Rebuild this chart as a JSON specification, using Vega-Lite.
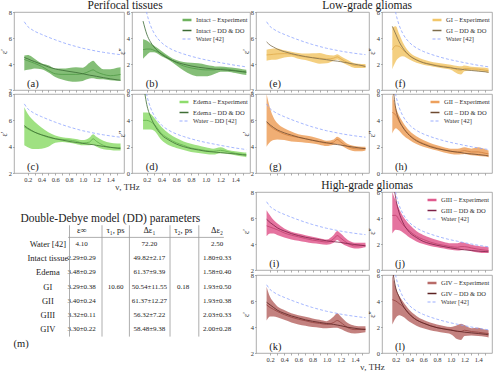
{
  "$schema": "https://vega.github.io/schema/vega-lite/v6.json",
  "padding": {"left": -1, "top": 0, "right": 0, "bottom": 0},
  "config": {
    "font": "Liberation Serif",
    "view": {"stroke": "#999", "strokeWidth": 0.8},
    "axis": {"grid": false, "domain": false, "tickColor": "#777", "tickSize": 2, "tickWidth": 0.6, "labelFont": "Liberation Serif", "labelFontSize": 6.5, "labelColor": "#333", "labelPadding": 1, "labelOverlap": false, "titleFont": "Liberation Serif", "titleFontSize": 8, "titleFontWeight": "normal", "titleColor": "#333", "titlePadding": 0},
    "axisY": {"tickSize": 1.5},
    "title": {"font": "Liberation Serif", "fontSize": 11.5, "fontWeight": "normal", "color": "#222", "anchor": "middle", "offset": -3},
    "legend": {"orient": "top-right", "offset": 2, "padding": 0, "labelFont": "Liberation Serif", "labelFontSize": 6.5, "labelColor": "#333", "symbolType": "stroke", "symbolSize": 80, "rowPadding": -2, "labelOffset": 3, "labelLimit": 200},
    "text": {"font": "Liberation Serif", "color": "#222"}
  },
  "datasets": {
    "w1": [{"x":0.15,"v":7.25},{"x":0.2,"v":6.88},{"x":0.25,"v":6.68},{"x":0.3,"v":6.52},{"x":0.4,"v":6.28},{"x":0.5,"v":6.06},{"x":0.6,"v":5.86},{"x":0.7,"v":5.67},{"x":0.8,"v":5.5},{"x":0.9,"v":5.35},{"x":1.0,"v":5.21},{"x":1.1,"v":5.1},{"x":1.2,"v":4.99},{"x":1.3,"v":4.9},{"x":1.4,"v":4.82},{"x":1.5,"v":4.75},{"x":1.55,"v":4.72}],
    "w2": [{"x":0.15,"v":7.57},{"x":0.175,"v":6.62},{"x":0.2,"v":5.93},{"x":0.25,"v":4.98},{"x":0.3,"v":4.37},{"x":0.4,"v":3.65},{"x":0.5,"v":3.24},{"x":0.6,"v":2.97},{"x":0.7,"v":2.77},{"x":0.8,"v":2.6},{"x":0.9,"v":2.45},{"x":1.0,"v":2.32},{"x":1.1,"v":2.21},{"x":1.2,"v":2.1},{"x":1.3,"v":2.0},{"x":1.4,"v":1.9},{"x":1.5,"v":1.82},{"x":1.55,"v":1.78}],
    "a": [{"x":0.15,"lo":3.5,"hi":4.65,"m":4.35,"f":4.5},{"x":0.2,"lo":3.55,"hi":4.7,"m":4.25,"f":4.4},{"x":0.25,"lo":3.6,"hi":4.6,"m":4.15,"f":4.28},{"x":0.3,"lo":3.65,"hi":4.4,"m":4.05,"f":4.18},{"x":0.4,"lo":3.6,"hi":4.05,"m":3.82,"f":3.98},{"x":0.5,"lo":3.35,"hi":3.9,"m":3.5,"f":3.78},{"x":0.6,"lo":3.0,"hi":3.65,"m":3.25,"f":3.62},{"x":0.7,"lo":2.8,"hi":3.65,"m":3.2,"f":3.52},{"x":0.8,"lo":2.68,"hi":3.7,"m":3.2,"f":3.43},{"x":0.9,"lo":2.64,"hi":3.75,"m":3.2,"f":3.35},{"x":1.0,"lo":2.7,"hi":3.72,"m":3.25,"f":3.25},{"x":1.1,"lo":2.88,"hi":4.1,"m":3.45,"f":3.14},{"x":1.15,"lo":2.9,"hi":4.25,"m":3.55,"f":3.1},{"x":1.2,"lo":2.85,"hi":4.0,"m":3.4,"f":3.05},{"x":1.3,"lo":2.82,"hi":3.6,"m":3.2,"f":2.95},{"x":1.4,"lo":2.75,"hi":3.6,"m":3.1,"f":2.86},{"x":1.5,"lo":2.72,"hi":3.72,"m":3.15,"f":2.78},{"x":1.55,"lo":2.72,"hi":3.75,"m":3.2,"f":2.75}],
    "b": [{"x":0.15,"lo":2.4,"hi":3.9,"m":3.1,"f":5.3},{"x":0.2,"lo":2.7,"hi":3.8,"m":3.15,"f":4.3},{"x":0.25,"lo":2.9,"hi":3.6,"m":3.15,"f":3.7},{"x":0.3,"lo":2.9,"hi":3.4,"m":3.05,"f":3.3},{"x":0.4,"lo":2.6,"hi":3.0,"m":2.8,"f":2.75},{"x":0.5,"lo":2.3,"hi":2.6,"m":2.45,"f":2.4},{"x":0.6,"lo":1.9,"hi":2.3,"m":2.1,"f":2.15},{"x":0.7,"lo":1.5,"hi":2.15,"m":1.85,"f":1.98},{"x":0.8,"lo":1.2,"hi":2.1,"m":1.7,"f":1.85},{"x":0.9,"lo":1.05,"hi":2.05,"m":1.6,"f":1.75},{"x":1.0,"lo":1.05,"hi":1.95,"m":1.55,"f":1.68},{"x":1.1,"lo":1.2,"hi":1.85,"m":1.55,"f":1.62},{"x":1.15,"lo":1.3,"hi":1.8,"m":1.58,"f":1.6},{"x":1.2,"lo":1.4,"hi":1.8,"m":1.62,"f":1.57},{"x":1.3,"lo":1.4,"hi":1.75,"m":1.6,"f":1.52},{"x":1.4,"lo":1.3,"hi":1.7,"m":1.5,"f":1.47},{"x":1.5,"lo":1.2,"hi":1.6,"m":1.42,"f":1.4},{"x":1.55,"lo":1.15,"hi":1.55,"m":1.38,"f":1.37}],
    "c": [{"x":0.15,"lo":4.1,"hi":7.0,"m":5.5,"f":5.6},{"x":0.2,"lo":3.95,"hi":6.5,"m":5.35,"f":5.4},{"x":0.25,"lo":3.85,"hi":6.15,"m":5.2,"f":5.25},{"x":0.3,"lo":3.82,"hi":5.9,"m":5.1,"f":5.1},{"x":0.4,"lo":3.85,"hi":5.45,"m":4.9,"f":4.9},{"x":0.5,"lo":4.0,"hi":5.1,"m":4.7,"f":4.75},{"x":0.6,"lo":4.3,"hi":4.85,"m":4.6,"f":4.6},{"x":0.7,"lo":4.35,"hi":4.72,"m":4.55,"f":4.5},{"x":0.8,"lo":4.3,"hi":4.65,"m":4.5,"f":4.4},{"x":0.9,"lo":4.2,"hi":4.58,"m":4.42,"f":4.32},{"x":1.0,"lo":4.1,"hi":4.5,"m":4.28,"f":4.25},{"x":1.1,"lo":4.1,"hi":4.7,"m":4.35,"f":4.18},{"x":1.15,"lo":4.15,"hi":4.95,"m":4.6,"f":4.15},{"x":1.2,"lo":4.0,"hi":4.75,"m":4.4,"f":4.1},{"x":1.3,"lo":3.8,"hi":4.45,"m":4.1,"f":4.02},{"x":1.4,"lo":3.75,"hi":4.3,"m":3.95,"f":3.95},{"x":1.5,"lo":3.7,"hi":4.25,"m":3.92,"f":3.88},{"x":1.55,"lo":3.7,"hi":4.25,"m":3.95,"f":3.85}],
    "d": [{"x":0.15,"lo":3.3,"hi":4.6,"m":4.0,"f":7.0},{"x":0.2,"lo":3.3,"hi":4.6,"m":4.0,"f":5.2},{"x":0.25,"lo":3.3,"hi":4.5,"m":3.9,"f":4.3},{"x":0.3,"lo":3.2,"hi":4.2,"m":3.7,"f":3.7},{"x":0.4,"lo":2.5,"hi":3.5,"m":3.0,"f":2.9},{"x":0.5,"lo":2.1,"hi":3.0,"m":2.6,"f":2.5},{"x":0.6,"lo":1.9,"hi":2.65,"m":2.3,"f":2.2},{"x":0.7,"lo":1.75,"hi":2.4,"m":2.1,"f":2.0},{"x":0.8,"lo":1.6,"hi":2.22,"m":1.9,"f":1.85},{"x":0.9,"lo":1.52,"hi":2.08,"m":1.8,"f":1.75},{"x":1.0,"lo":1.45,"hi":1.95,"m":1.7,"f":1.65},{"x":1.1,"lo":1.4,"hi":1.85,"m":1.65,"f":1.6},{"x":1.15,"lo":1.45,"hi":1.9,"m":1.68,"f":1.57},{"x":1.2,"lo":1.5,"hi":1.95,"m":1.72,"f":1.55},{"x":1.3,"lo":1.45,"hi":1.75,"m":1.62,"f":1.5},{"x":1.4,"lo":1.35,"hi":1.65,"m":1.5,"f":1.45},{"x":1.5,"lo":1.25,"hi":1.58,"m":1.42,"f":1.38},{"x":1.55,"lo":1.2,"hi":1.55,"m":1.4,"f":1.35}],
    "e": [{"x":0.15,"lo":4.25,"hi":5.1,"m":4.7,"f":5.7},{"x":0.2,"lo":4.3,"hi":5.15,"m":4.72,"f":5.45},{"x":0.25,"lo":4.32,"hi":5.2,"m":4.75,"f":5.3},{"x":0.3,"lo":4.35,"hi":5.2,"m":4.78,"f":5.15},{"x":0.4,"lo":4.5,"hi":5.05,"m":4.8,"f":4.95},{"x":0.5,"lo":4.55,"hi":4.95,"m":4.75,"f":4.8},{"x":0.6,"lo":4.4,"hi":4.85,"m":4.62,"f":4.68},{"x":0.7,"lo":4.3,"hi":4.8,"m":4.55,"f":4.57},{"x":0.8,"lo":4.15,"hi":4.82,"m":4.5,"f":4.48},{"x":0.9,"lo":4.02,"hi":4.85,"m":4.45,"f":4.4},{"x":1.0,"lo":4.05,"hi":4.72,"m":4.38,"f":4.33},{"x":1.1,"lo":4.25,"hi":4.65,"m":4.45,"f":4.25},{"x":1.15,"lo":4.35,"hi":4.75,"m":4.55,"f":4.22},{"x":1.2,"lo":4.2,"hi":4.6,"m":4.4,"f":4.18},{"x":1.3,"lo":3.9,"hi":4.3,"m":4.1,"f":4.08},{"x":1.4,"lo":3.7,"hi":4.05,"m":3.88,"f":3.98},{"x":1.5,"lo":3.7,"hi":4.0,"m":3.85,"f":3.88},{"x":1.55,"lo":3.7,"hi":4.0,"m":3.85,"f":3.8}],
    "f": [{"x":0.15,"lo":1.6,"hi":4.8,"m":3.1,"f":4.9},{"x":0.2,"lo":2.2,"hi":4.9,"m":3.4,"f":4.3},{"x":0.25,"lo":2.5,"hi":4.3,"m":3.35,"f":3.7},{"x":0.3,"lo":2.6,"hi":3.7,"m":3.1,"f":3.25},{"x":0.4,"lo":2.35,"hi":2.9,"m":2.62,"f":2.65},{"x":0.5,"lo":2.1,"hi":2.55,"m":2.32,"f":2.32},{"x":0.6,"lo":1.95,"hi":2.35,"m":2.12,"f":2.1},{"x":0.7,"lo":1.85,"hi":2.2,"m":2.0,"f":1.97},{"x":0.8,"lo":1.75,"hi":2.1,"m":1.9,"f":1.85},{"x":0.9,"lo":1.65,"hi":2.02,"m":1.82,"f":1.77},{"x":1.0,"lo":1.55,"hi":1.95,"m":1.75,"f":1.7},{"x":1.1,"lo":1.25,"hi":1.85,"m":1.55,"f":1.63},{"x":1.15,"lo":1.2,"hi":1.82,"m":1.52,"f":1.6},{"x":1.2,"lo":1.45,"hi":1.88,"m":1.65,"f":1.56},{"x":1.3,"lo":1.5,"hi":1.78,"m":1.62,"f":1.5},{"x":1.4,"lo":1.45,"hi":1.75,"m":1.6,"f":1.45},{"x":1.5,"lo":1.38,"hi":1.72,"m":1.52,"f":1.4},{"x":1.55,"lo":1.3,"hi":1.65,"m":1.48,"f":1.36}],
    "g": [{"x":0.15,"lo":4.0,"hi":8.0,"m":5.8,"f":5.9},{"x":0.2,"lo":4.35,"hi":6.9,"m":5.55,"f":5.65},{"x":0.25,"lo":4.5,"hi":6.2,"m":5.35,"f":5.45},{"x":0.3,"lo":4.55,"hi":5.8,"m":5.2,"f":5.28},{"x":0.4,"lo":4.5,"hi":5.4,"m":4.95,"f":5.05},{"x":0.5,"lo":4.4,"hi":5.15,"m":4.8,"f":4.88},{"x":0.6,"lo":4.35,"hi":4.95,"m":4.7,"f":4.72},{"x":0.7,"lo":4.3,"hi":4.85,"m":4.6,"f":4.6},{"x":0.8,"lo":4.25,"hi":4.75,"m":4.5,"f":4.48},{"x":0.9,"lo":4.15,"hi":4.6,"m":4.38,"f":4.38},{"x":1.0,"lo":4.05,"hi":4.45,"m":4.25,"f":4.3},{"x":1.1,"lo":4.15,"hi":4.55,"m":4.35,"f":4.2},{"x":1.15,"lo":4.2,"hi":4.75,"m":4.55,"f":4.16},{"x":1.2,"lo":4.1,"hi":4.6,"m":4.35,"f":4.12},{"x":1.3,"lo":3.8,"hi":4.2,"m":4.0,"f":4.03},{"x":1.4,"lo":3.65,"hi":4.05,"m":3.85,"f":3.95},{"x":1.5,"lo":3.65,"hi":4.0,"m":3.82,"f":3.88},{"x":1.55,"lo":3.7,"hi":4.0,"m":3.85,"f":3.85}],
    "h": [{"x":0.15,"lo":3.0,"hi":6.0,"m":4.6,"f":7.0},{"x":0.2,"lo":3.4,"hi":5.0,"m":4.4,"f":4.9},{"x":0.25,"lo":3.2,"hi":4.35,"m":3.9,"f":4.0},{"x":0.3,"lo":2.9,"hi":3.9,"m":3.5,"f":3.5},{"x":0.4,"lo":2.5,"hi":3.2,"m":2.9,"f":2.85},{"x":0.5,"lo":2.2,"hi":2.8,"m":2.5,"f":2.45},{"x":0.6,"lo":2.0,"hi":2.5,"m":2.25,"f":2.2},{"x":0.7,"lo":1.85,"hi":2.28,"m":2.05,"f":2.0},{"x":0.8,"lo":1.7,"hi":2.1,"m":1.9,"f":1.85},{"x":0.9,"lo":1.55,"hi":1.95,"m":1.75,"f":1.75},{"x":1.0,"lo":1.45,"hi":1.85,"m":1.65,"f":1.65},{"x":1.1,"lo":1.4,"hi":1.85,"m":1.6,"f":1.58},{"x":1.15,"lo":1.42,"hi":1.9,"m":1.65,"f":1.55},{"x":1.2,"lo":1.45,"hi":1.95,"m":1.7,"f":1.5},{"x":1.3,"lo":1.35,"hi":1.85,"m":1.6,"f":1.45},{"x":1.4,"lo":1.3,"hi":1.95,"m":1.6,"f":1.4},{"x":1.5,"lo":1.25,"hi":1.8,"m":1.5,"f":1.34},{"x":1.55,"lo":1.2,"hi":1.7,"m":1.45,"f":1.3}],
    "i": [{"x":0.15,"lo":4.6,"hi":6.6,"m":5.4,"f":5.9},{"x":0.2,"lo":4.8,"hi":6.2,"m":5.3,"f":5.65},{"x":0.25,"lo":4.8,"hi":5.85,"m":5.2,"f":5.45},{"x":0.3,"lo":4.7,"hi":5.6,"m":5.1,"f":5.25},{"x":0.4,"lo":4.5,"hi":5.2,"m":4.85,"f":5.0},{"x":0.5,"lo":4.35,"hi":4.95,"m":4.68,"f":4.8},{"x":0.6,"lo":4.25,"hi":4.8,"m":4.55,"f":4.65},{"x":0.7,"lo":4.15,"hi":4.68,"m":4.42,"f":4.52},{"x":0.8,"lo":4.05,"hi":4.55,"m":4.3,"f":4.42},{"x":0.9,"lo":4.0,"hi":4.45,"m":4.22,"f":4.33},{"x":1.0,"lo":3.95,"hi":4.35,"m":4.15,"f":4.25},{"x":1.1,"lo":4.1,"hi":4.7,"m":4.4,"f":4.18},{"x":1.15,"lo":4.3,"hi":5.0,"m":4.65,"f":4.15},{"x":1.2,"lo":4.1,"hi":4.8,"m":4.45,"f":4.12},{"x":1.3,"lo":3.8,"hi":4.3,"m":4.05,"f":4.03},{"x":1.4,"lo":3.65,"hi":4.1,"m":3.85,"f":3.96},{"x":1.5,"lo":3.7,"hi":4.1,"m":3.88,"f":3.9},{"x":1.55,"lo":3.75,"hi":4.1,"m":3.9,"f":3.85}],
    "j": [{"x":0.15,"lo":2.8,"hi":6.0,"m":4.2,"f":7.5},{"x":0.2,"lo":3.1,"hi":5.3,"m":4.2,"f":5.5},{"x":0.25,"lo":3.05,"hi":4.7,"m":3.85,"f":4.4},{"x":0.3,"lo":2.9,"hi":4.2,"m":3.5,"f":3.7},{"x":0.4,"lo":2.5,"hi":3.5,"m":3.0,"f":2.9},{"x":0.5,"lo":2.2,"hi":3.0,"m":2.6,"f":2.5},{"x":0.6,"lo":2.0,"hi":2.7,"m":2.35,"f":2.2},{"x":0.7,"lo":1.85,"hi":2.48,"m":2.15,"f":2.03},{"x":0.8,"lo":1.75,"hi":2.3,"m":2.0,"f":1.9},{"x":0.9,"lo":1.65,"hi":2.15,"m":1.9,"f":1.8},{"x":1.0,"lo":1.55,"hi":2.05,"m":1.8,"f":1.7},{"x":1.1,"lo":1.5,"hi":2.05,"m":1.75,"f":1.62},{"x":1.15,"lo":1.52,"hi":2.15,"m":1.8,"f":1.58},{"x":1.2,"lo":1.55,"hi":2.1,"m":1.8,"f":1.55},{"x":1.3,"lo":1.45,"hi":1.95,"m":1.7,"f":1.5},{"x":1.4,"lo":1.35,"hi":1.85,"m":1.6,"f":1.45},{"x":1.5,"lo":1.3,"hi":1.78,"m":1.52,"f":1.42},{"x":1.55,"lo":1.3,"hi":1.75,"m":1.5,"f":1.4}],
    "k": [{"x":0.15,"lo":4.5,"hi":7.1,"m":5.7,"f":5.9},{"x":0.2,"lo":4.8,"hi":6.3,"m":5.5,"f":5.7},{"x":0.25,"lo":4.8,"hi":5.9,"m":5.35,"f":5.5},{"x":0.3,"lo":4.75,"hi":5.6,"m":5.2,"f":5.3},{"x":0.4,"lo":4.55,"hi":5.3,"m":4.95,"f":5.05},{"x":0.5,"lo":4.35,"hi":5.05,"m":4.75,"f":4.85},{"x":0.6,"lo":4.2,"hi":4.9,"m":4.6,"f":4.7},{"x":0.7,"lo":4.1,"hi":4.78,"m":4.48,"f":4.55},{"x":0.8,"lo":4.0,"hi":4.65,"m":4.35,"f":4.44},{"x":0.9,"lo":3.95,"hi":4.55,"m":4.28,"f":4.35},{"x":1.0,"lo":3.9,"hi":4.45,"m":4.2,"f":4.27},{"x":1.1,"lo":3.95,"hi":4.8,"m":4.35,"f":4.2},{"x":1.15,"lo":3.95,"hi":5.05,"m":4.5,"f":4.15},{"x":1.2,"lo":3.85,"hi":4.8,"m":4.35,"f":4.1},{"x":1.3,"lo":3.6,"hi":4.3,"m":3.95,"f":3.98},{"x":1.4,"lo":3.5,"hi":4.1,"m":3.8,"f":3.9},{"x":1.5,"lo":3.55,"hi":4.05,"m":3.82,"f":3.83},{"x":1.55,"lo":3.6,"hi":4.05,"m":3.85,"f":3.8}],
    "l": [{"x":0.15,"lo":2.2,"hi":6.0,"m":4.1,"f":6.5},{"x":0.2,"lo":2.7,"hi":5.0,"m":4.0,"f":5.0},{"x":0.25,"lo":2.9,"hi":4.4,"m":3.8,"f":4.3},{"x":0.3,"lo":2.8,"hi":4.0,"m":3.6,"f":3.7},{"x":0.4,"lo":2.4,"hi":3.3,"m":2.95,"f":3.0},{"x":0.5,"lo":2.1,"hi":2.85,"m":2.55,"f":2.55},{"x":0.6,"lo":1.9,"hi":2.55,"m":2.3,"f":2.3},{"x":0.7,"lo":1.75,"hi":2.35,"m":2.1,"f":2.1},{"x":0.8,"lo":1.65,"hi":2.2,"m":1.95,"f":1.95},{"x":0.9,"lo":1.55,"hi":2.08,"m":1.85,"f":1.85},{"x":1.0,"lo":1.45,"hi":2.0,"m":1.8,"f":1.75},{"x":1.1,"lo":1.05,"hi":2.15,"m":1.65,"f":1.68},{"x":1.15,"lo":1.0,"hi":2.25,"m":1.65,"f":1.64},{"x":1.2,"lo":1.3,"hi":2.15,"m":1.75,"f":1.6},{"x":1.3,"lo":1.35,"hi":1.9,"m":1.65,"f":1.55},{"x":1.4,"lo":1.3,"hi":1.95,"m":1.6,"f":1.5},{"x":1.5,"lo":1.25,"hi":1.8,"m":1.52,"f":1.44},{"x":1.55,"lo":1.2,"hi":1.75,"m":1.5,"f":1.4}],
    "tbl": [
      {"r":0,"c":1,"t":"ε∞","k":"h"},{"r":0,"c":2,"t":"τ₁, ps","k":"h"},{"r":0,"c":3,"t":"Δε₁","k":"h"},{"r":0,"c":4,"t":"τ₂, ps","k":"h"},{"r":0,"c":5,"t":"Δε₂","k":"h"},
      {"r":1,"c":0,"t":"Water [42]","k":"h"},{"r":2,"c":0,"t":"Intact tissue","k":"h"},{"r":3,"c":0,"t":"Edema","k":"h"},{"r":4,"c":0,"t":"GI","k":"h"},{"r":5,"c":0,"t":"GII","k":"h"},{"r":6,"c":0,"t":"GIII","k":"h"},{"r":7,"c":0,"t":"GIV","k":"h"},
      {"r":1,"c":1,"t":"4.10","k":"v"},{"r":1,"c":3,"t":"72.20","k":"v"},{"r":1,"c":5,"t":"2.50","k":"v"},
      {"r":2,"c":1,"t":"2.29±0.29","k":"v"},{"r":2,"c":3,"t":"49.82±2.17","k":"v"},{"r":2,"c":5,"t":"1.80±0.33","k":"v"},
      {"r":3,"c":1,"t":"3.48±0.29","k":"v"},{"r":3,"c":3,"t":"61.37±9.39","k":"v"},{"r":3,"c":5,"t":"1.58±0.40","k":"v"},
      {"r":4,"c":1,"t":"3.29±0.38","k":"v"},{"r":4,"c":2,"t":"10.60","k":"v"},{"r":4,"c":3,"t":"50.54±11.55","k":"v"},{"r":4,"c":4,"t":"0.18","k":"v"},{"r":4,"c":5,"t":"1.93±0.50","k":"v"},
      {"r":5,"c":1,"t":"3.40±0.24","k":"v"},{"r":5,"c":3,"t":"61.37±12.27","k":"v"},{"r":5,"c":5,"t":"1.93±0.38","k":"v"},
      {"r":6,"c":1,"t":"3.32±0.11","k":"v"},{"r":6,"c":3,"t":"56.32±7.22","k":"v"},{"r":6,"c":5,"t":"2.03±0.33","k":"v"},
      {"r":7,"c":1,"t":"3.30±0.22","k":"v"},{"r":7,"c":3,"t":"58.48±9.38","k":"v"},{"r":7,"c":5,"t":"2.00±0.28","k":"v"}
    ],
    "sep": [{"c":0.64},{"c":1.6},{"c":2.41},{"c":3.61},{"c":4.46}]
  },
  "resolve": {"scale": {"color": "independent", "strokeDash": "independent", "strokeWidth": "independent"}},
  "spacing": -10,
  "hconcat": [
    {
      "spacing": 9,
      "resolve": {"scale": {"color": "independent", "strokeDash": "independent", "strokeWidth": "independent"}},
      "vconcat": [
        {
          "spacing": -4,
          "resolve": {"scale": {"color": "independent", "strokeDash": "independent", "strokeWidth": "independent"}},
          "vconcat": [
            {
              "title": "Perifocal tissues",
              "bounds": "flush", "spacing": 8,
              "resolve": {"scale": {"color": "independent", "strokeDash": "independent", "strokeWidth": "independent"}},
              "hconcat": [
                {"width": 110, "height": 78, "layer": [
                  {"data": {"name": "a"}, "mark": {"type": "area", "color": "#6fb35f", "opacity": 0.85, "interpolate": "monotone", "clip": true}, "encoding": {"x": {"field": "x", "type": "quantitative", "scale": {"domain": [0.16, 1.54]}, "axis": {"values": [0.2,0.3,0.4,0.5,0.6,0.7,0.8,0.9,1.0,1.1,1.2,1.3,1.4,1.5], "tickCount": 20, "labels": false, "title": null}}, "y": {"field": "lo", "type": "quantitative", "scale": {"domain": [2, 8]}, "axis": {"values": [2,4,6,8], "tickCount": 20, "format": "d", "labelOverlap": false, "title": "ε′"}}, "y2": {"field": "hi"}}},
                  {"data": {"name": "a"}, "mark": {"type": "line", "color": "#4f9a45", "strokeWidth": 0.8, "interpolate": "monotone", "clip": true}, "encoding": {"x": {"field": "x", "type": "quantitative"}, "y": {"field": "m", "type": "quantitative"}}},
                  {"data": {"name": "a"}, "mark": {"type": "line", "color": "#3a6a33", "strokeWidth": 0.8, "interpolate": "monotone", "clip": true}, "encoding": {"x": {"field": "x", "type": "quantitative"}, "y": {"field": "f", "type": "quantitative"}}},
                  {"data": {"name": "w1"}, "mark": {"type": "line", "color": "#8ea4ff", "strokeWidth": 0.8, "strokeDash": [3, 2], "interpolate": "monotone", "clip": true}, "encoding": {"x": {"field": "x", "type": "quantitative"}, "y": {"field": "v", "type": "quantitative"}}},
                  {"data": {"values": [{"t": "(a)"}]}, "mark": {"type": "text", "align": "left", "baseline": "bottom", "dx": 2, "dy": -1, "fontSize": 10.5}, "encoding": {"x": {"datum": 0.16}, "y": {"datum": 2}, "text": {"field": "t"}}}
                ]},
                {"width": 118, "height": 78, "layer": [
                  {"data": {"name": "b"}, "mark": {"type": "area", "color": "#6fb35f", "opacity": 0.85, "interpolate": "monotone", "clip": true}, "encoding": {"x": {"field": "x", "type": "quantitative", "scale": {"domain": [0.16, 1.54]}, "axis": {"values": [0.2,0.3,0.4,0.5,0.6,0.7,0.8,0.9,1.0,1.1,1.2,1.3,1.4,1.5], "tickCount": 20, "labels": false, "title": null}}, "y": {"field": "lo", "type": "quantitative", "scale": {"domain": [0, 6]}, "axis": {"values": [0,2,4,6], "tickCount": 20, "format": "d", "labelOverlap": false, "title": "ε″"}}, "y2": {"field": "hi"}}},
                  {"data": {"name": "b"}, "mark": {"type": "line", "color": "#4f9a45", "strokeWidth": 0.8, "interpolate": "monotone", "clip": true}, "encoding": {"x": {"field": "x", "type": "quantitative"}, "y": {"field": "m", "type": "quantitative"}}},
                  {"data": {"name": "b"}, "mark": {"type": "line", "color": "#3a6a33", "strokeWidth": 0.8, "interpolate": "monotone", "clip": true}, "encoding": {"x": {"field": "x", "type": "quantitative"}, "y": {"field": "f", "type": "quantitative"}}},
                  {"data": {"name": "w2"}, "mark": {"type": "line", "color": "#8ea4ff", "strokeWidth": 0.8, "strokeDash": [3, 2], "interpolate": "monotone", "clip": true}, "encoding": {"x": {"field": "x", "type": "quantitative"}, "y": {"field": "v", "type": "quantitative"}}},
                  {"data": {"values": [{"t": "(b)"}]}, "mark": {"type": "text", "align": "left", "baseline": "bottom", "dx": 2, "dy": -1, "fontSize": 10.5}, "encoding": {"x": {"datum": 0.16}, "y": {"datum": 0}, "text": {"field": "t"}}},
                  {"data": {"values": [{"s": "Intact – Experiment"}, {"s": "Intact – DD & DO"}, {"s": "Water [42]"}]}, "mark": {"type": "rule", "opacity": 0}, "encoding": {"x": {"datum": 1}, "color": {"field": "s", "type": "nominal", "scale": {"domain": ["Intact – Experiment", "Intact – DD & DO", "Water [42]"], "range": ["#6fb35f", "#3a6a33", "#8ea4ff"]}, "legend": {"title": null}}, "strokeDash": {"field": "s", "type": "nominal", "scale": {"domain": ["Intact – Experiment", "Intact – DD & DO", "Water [42]"], "range": [[1, 0], [1, 0], [3, 2]]}, "legend": {"title": null}}, "strokeWidth": {"field": "s", "type": "nominal", "scale": {"domain": ["Intact – Experiment", "Intact – DD & DO", "Water [42]"], "range": [2.5, 0.9, 0.9]}, "legend": {"title": null}}}}
                ]}
              ]
            },
            {
              "bounds": "flush", "spacing": 8,
              "resolve": {"scale": {"color": "independent", "strokeDash": "independent", "strokeWidth": "independent"}},
              "hconcat": [
                {"width": 110, "height": 79, "layer": [
                  {"data": {"name": "c"}, "mark": {"type": "area", "color": "#8edc6c", "opacity": 0.85, "interpolate": "monotone", "clip": true}, "encoding": {"x": {"field": "x", "type": "quantitative", "scale": {"domain": [0.16, 1.54]}, "axis": {"values": [0.2,0.3,0.4,0.5,0.6,0.7,0.8,0.9,1.0,1.1,1.2,1.3,1.4,1.5], "tickCount": 20, "labelOverlap": false, "labelExpr": "round(datum.value*10)%2==0 ? format(datum.value,'.1f') : ''", "title": "ν, THz", "titleX": 113, "titleY": 9, "titleBaseline": "top", "titleFontSize": 9}}, "y": {"field": "lo", "type": "quantitative", "scale": {"domain": [2, 8]}, "axis": {"values": [2,4,6,8], "tickCount": 20, "format": "d", "labelOverlap": false, "title": "ε′"}}, "y2": {"field": "hi"}}},
                  {"data": {"name": "c"}, "mark": {"type": "line", "color": "#5fb04a", "strokeWidth": 0.8, "interpolate": "monotone", "clip": true}, "encoding": {"x": {"field": "x", "type": "quantitative"}, "y": {"field": "m", "type": "quantitative"}}},
                  {"data": {"name": "c"}, "mark": {"type": "line", "color": "#3f6e35", "strokeWidth": 0.8, "interpolate": "monotone", "clip": true}, "encoding": {"x": {"field": "x", "type": "quantitative"}, "y": {"field": "f", "type": "quantitative"}}},
                  {"data": {"name": "w1"}, "mark": {"type": "line", "color": "#8ea4ff", "strokeWidth": 0.8, "strokeDash": [3, 2], "interpolate": "monotone", "clip": true}, "encoding": {"x": {"field": "x", "type": "quantitative"}, "y": {"field": "v", "type": "quantitative"}}},
                  {"data": {"values": [{"t": "(c)"}]}, "mark": {"type": "text", "align": "left", "baseline": "bottom", "dx": 2, "dy": -1, "fontSize": 10.5}, "encoding": {"x": {"datum": 0.16}, "y": {"datum": 2}, "text": {"field": "t"}}}
                ]},
                {"width": 118, "height": 79, "layer": [
                  {"data": {"name": "d"}, "mark": {"type": "area", "color": "#8edc6c", "opacity": 0.85, "interpolate": "monotone", "clip": true}, "encoding": {"x": {"field": "x", "type": "quantitative", "scale": {"domain": [0.16, 1.54]}, "axis": {"values": [0.2,0.3,0.4,0.5,0.6,0.7,0.8,0.9,1.0,1.1,1.2,1.3,1.4,1.5], "tickCount": 20, "labelOverlap": false, "labelExpr": "round(datum.value*10)%2==0 ? format(datum.value,'.1f') : ''", "title": null}}, "y": {"field": "lo", "type": "quantitative", "scale": {"domain": [0, 6]}, "axis": {"values": [0,2,4,6], "tickCount": 20, "format": "d", "labelOverlap": false, "title": "ε″"}}, "y2": {"field": "hi"}}},
                  {"data": {"name": "d"}, "mark": {"type": "line", "color": "#5fb04a", "strokeWidth": 0.8, "interpolate": "monotone", "clip": true}, "encoding": {"x": {"field": "x", "type": "quantitative"}, "y": {"field": "m", "type": "quantitative"}}},
                  {"data": {"name": "d"}, "mark": {"type": "line", "color": "#3f6e35", "strokeWidth": 0.8, "interpolate": "monotone", "clip": true}, "encoding": {"x": {"field": "x", "type": "quantitative"}, "y": {"field": "f", "type": "quantitative"}}},
                  {"data": {"name": "w2"}, "mark": {"type": "line", "color": "#8ea4ff", "strokeWidth": 0.8, "strokeDash": [3, 2], "interpolate": "monotone", "clip": true}, "encoding": {"x": {"field": "x", "type": "quantitative"}, "y": {"field": "v", "type": "quantitative"}}},
                  {"data": {"values": [{"t": "(d)"}]}, "mark": {"type": "text", "align": "left", "baseline": "bottom", "dx": 2, "dy": -1, "fontSize": 10.5}, "encoding": {"x": {"datum": 0.16}, "y": {"datum": 0}, "text": {"field": "t"}}},
                  {"data": {"values": [{"s": "Edema – Experiment"}, {"s": "Edema – DD & DO"}, {"s": "Water – DD [42]"}]}, "mark": {"type": "rule", "opacity": 0}, "encoding": {"x": {"datum": 1}, "color": {"field": "s", "type": "nominal", "scale": {"domain": ["Edema – Experiment", "Edema – DD & DO", "Water – DD [42]"], "range": ["#8edc6c", "#3f6e35", "#8ea4ff"]}, "legend": {"title": null}}, "strokeDash": {"field": "s", "type": "nominal", "scale": {"domain": ["Edema – Experiment", "Edema – DD & DO", "Water – DD [42]"], "range": [[1, 0], [1, 0], [3, 2]]}, "legend": {"title": null}}, "strokeWidth": {"field": "s", "type": "nominal", "scale": {"domain": ["Edema – Experiment", "Edema – DD & DO", "Water – DD [42]"], "range": [2.5, 0.9, 0.9]}, "legend": {"title": null}}}}
                ]}
              ]
            }
          ]
        },
        {
          "width": 220, "height": 157,
          "view": {"stroke": null},
          "data": {"name": "tbl"},
          "layer": [
            {"transform": [{"filter": "datum.k == 'h'"}], "mark": {"type": "text", "fontSize": 8.5}, "encoding": {"x": {"field": "c", "type": "quantitative", "scale": {"domain": [-0.75, 5.25]}, "axis": null}, "y": {"field": "r", "type": "quantitative", "scale": {"domain": [-1.6, 8.5], "reverse": true}, "axis": null}, "text": {"field": "t"}}},
            {"transform": [{"filter": "datum.k == 'v'"}], "mark": {"type": "text", "fontSize": 7}, "encoding": {"x": {"field": "c", "type": "quantitative"}, "y": {"field": "r", "type": "quantitative"}, "text": {"field": "t"}}},
            {"data": {"name": "sep"}, "mark": {"type": "rule", "color": "#999", "strokeWidth": 0.8}, "encoding": {"x": {"field": "c", "type": "quantitative"}, "y": {"datum": -0.3}, "y2": {"datum": 7.5}}},
            {"data": {"values": [{}]}, "mark": {"type": "rule", "color": "#999", "strokeWidth": 0.8}, "encoding": {"x": {"datum": 0.6}, "x2": {"datum": 5.2}, "y": {"datum": 0.55}}},
            {"data": {"values": [{"t": "Double-Debye model (DD) parameters"}]}, "mark": {"type": "text", "align": "left", "baseline": "middle", "dx": -2, "fontSize": 11.5}, "encoding": {"x": {"datum": -0.75}, "y": {"datum": -0.75}, "text": {"field": "t"}}},
            {"data": {"values": [{"t": "(m)"}]}, "mark": {"type": "text", "align": "left", "baseline": "middle", "dx": -9, "fontSize": 10.5}, "encoding": {"x": {"datum": -0.75}, "y": {"datum": 8}, "text": {"field": "t"}}}
          ]
        }
      ]
    },
    {
      "spacing": 3,
      "resolve": {"scale": {"color": "independent", "strokeDash": "independent", "strokeWidth": "independent"}},
      "vconcat": [
        {
          "spacing": -4,
          "resolve": {"scale": {"color": "independent", "strokeDash": "independent", "strokeWidth": "independent"}},
          "vconcat": [
            {
              "title": "Low-grade gliomas",
              "bounds": "flush", "spacing": 13,
              "resolve": {"scale": {"color": "independent", "strokeDash": "independent", "strokeWidth": "independent"}},
              "hconcat": [
                {"width": 113, "height": 78, "layer": [
                  {"data": {"name": "e"}, "mark": {"type": "area", "color": "#f2c76a", "opacity": 0.85, "interpolate": "monotone", "clip": true}, "encoding": {"x": {"field": "x", "type": "quantitative", "scale": {"domain": [0.16, 1.54]}, "axis": {"values": [0.2,0.3,0.4,0.5,0.6,0.7,0.8,0.9,1.0,1.1,1.2,1.3,1.4,1.5], "tickCount": 20, "labels": false, "title": null}}, "y": {"field": "lo", "type": "quantitative", "scale": {"domain": [2, 8]}, "axis": {"values": [2,4,6,8], "tickCount": 20, "format": "d", "labelOverlap": false, "title": "ε′"}}, "y2": {"field": "hi"}}},
                  {"data": {"name": "e"}, "mark": {"type": "line", "color": "#e0a94a", "strokeWidth": 0.8, "interpolate": "monotone", "clip": true}, "encoding": {"x": {"field": "x", "type": "quantitative"}, "y": {"field": "m", "type": "quantitative"}}},
                  {"data": {"name": "e"}, "mark": {"type": "line", "color": "#7e6d4c", "strokeWidth": 0.8, "interpolate": "monotone", "clip": true}, "encoding": {"x": {"field": "x", "type": "quantitative"}, "y": {"field": "f", "type": "quantitative"}}},
                  {"data": {"name": "w1"}, "mark": {"type": "line", "color": "#8ea4ff", "strokeWidth": 0.8, "strokeDash": [3, 2], "interpolate": "monotone", "clip": true}, "encoding": {"x": {"field": "x", "type": "quantitative"}, "y": {"field": "v", "type": "quantitative"}}},
                  {"data": {"values": [{"t": "(e)"}]}, "mark": {"type": "text", "align": "left", "baseline": "bottom", "dx": 2, "dy": -1, "fontSize": 10.5}, "encoding": {"x": {"datum": 0.16}, "y": {"datum": 2}, "text": {"field": "t"}}}
                ]},
                {"width": 110, "height": 78, "layer": [
                  {"data": {"name": "f"}, "mark": {"type": "area", "color": "#f2c76a", "opacity": 0.85, "interpolate": "monotone", "clip": true}, "encoding": {"x": {"field": "x", "type": "quantitative", "scale": {"domain": [0.16, 1.54]}, "axis": {"values": [0.2,0.3,0.4,0.5,0.6,0.7,0.8,0.9,1.0,1.1,1.2,1.3,1.4,1.5], "tickCount": 20, "labels": false, "title": null}}, "y": {"field": "lo", "type": "quantitative", "scale": {"domain": [0, 6]}, "axis": {"values": [0,2,4,6], "tickCount": 20, "format": "d", "labelOverlap": false, "title": "ε″"}}, "y2": {"field": "hi"}}},
                  {"data": {"name": "f"}, "mark": {"type": "line", "color": "#e0a94a", "strokeWidth": 0.8, "interpolate": "monotone", "clip": true}, "encoding": {"x": {"field": "x", "type": "quantitative"}, "y": {"field": "m", "type": "quantitative"}}},
                  {"data": {"name": "f"}, "mark": {"type": "line", "color": "#7e6d4c", "strokeWidth": 0.8, "interpolate": "monotone", "clip": true}, "encoding": {"x": {"field": "x", "type": "quantitative"}, "y": {"field": "f", "type": "quantitative"}}},
                  {"data": {"name": "w2"}, "mark": {"type": "line", "color": "#8ea4ff", "strokeWidth": 0.8, "strokeDash": [3, 2], "interpolate": "monotone", "clip": true}, "encoding": {"x": {"field": "x", "type": "quantitative"}, "y": {"field": "v", "type": "quantitative"}}},
                  {"data": {"values": [{"t": "(f)"}]}, "mark": {"type": "text", "align": "left", "baseline": "bottom", "dx": 2, "dy": -1, "fontSize": 10.5}, "encoding": {"x": {"datum": 0.16}, "y": {"datum": 0}, "text": {"field": "t"}}},
                  {"data": {"values": [{"s": "GI – Experiment"}, {"s": "GI – DD & DO"}, {"s": "Water [42]"}]}, "mark": {"type": "rule", "opacity": 0}, "encoding": {"x": {"datum": 1}, "color": {"field": "s", "type": "nominal", "scale": {"domain": ["GI – Experiment", "GI – DD & DO", "Water [42]"], "range": ["#f2c76a", "#7e6d4c", "#8ea4ff"]}, "legend": {"title": null}}, "strokeDash": {"field": "s", "type": "nominal", "scale": {"domain": ["GI – Experiment", "GI – DD & DO", "Water [42]"], "range": [[1, 0], [1, 0], [3, 2]]}, "legend": {"title": null}}, "strokeWidth": {"field": "s", "type": "nominal", "scale": {"domain": ["GI – Experiment", "GI – DD & DO", "Water [42]"], "range": [2.5, 0.9, 0.9]}, "legend": {"title": null}}}}
                ]}
              ]
            },
            {
              "bounds": "flush", "spacing": 13,
              "resolve": {"scale": {"color": "independent", "strokeDash": "independent", "strokeWidth": "independent"}},
              "hconcat": [
                {"width": 113, "height": 79, "layer": [
                  {"data": {"name": "g"}, "mark": {"type": "area", "color": "#eda05c", "opacity": 0.85, "interpolate": "monotone", "clip": true}, "encoding": {"x": {"field": "x", "type": "quantitative", "scale": {"domain": [0.16, 1.54]}, "axis": {"values": [0.2,0.3,0.4,0.5,0.6,0.7,0.8,0.9,1.0,1.1,1.2,1.3,1.4,1.5], "tickCount": 20, "labels": false, "title": null}}, "y": {"field": "lo", "type": "quantitative", "scale": {"domain": [2, 8]}, "axis": {"values": [2,4,6,8], "tickCount": 20, "format": "d", "labelOverlap": false, "title": "ε′"}}, "y2": {"field": "hi"}}},
                  {"data": {"name": "g"}, "mark": {"type": "line", "color": "#d08040", "strokeWidth": 0.8, "interpolate": "monotone", "clip": true}, "encoding": {"x": {"field": "x", "type": "quantitative"}, "y": {"field": "m", "type": "quantitative"}}},
                  {"data": {"name": "g"}, "mark": {"type": "line", "color": "#6e4a30", "strokeWidth": 0.8, "interpolate": "monotone", "clip": true}, "encoding": {"x": {"field": "x", "type": "quantitative"}, "y": {"field": "f", "type": "quantitative"}}},
                  {"data": {"name": "w1"}, "mark": {"type": "line", "color": "#8ea4ff", "strokeWidth": 0.8, "strokeDash": [3, 2], "interpolate": "monotone", "clip": true}, "encoding": {"x": {"field": "x", "type": "quantitative"}, "y": {"field": "v", "type": "quantitative"}}},
                  {"data": {"values": [{"t": "(g)"}]}, "mark": {"type": "text", "align": "left", "baseline": "bottom", "dx": 2, "dy": -1, "fontSize": 10.5}, "encoding": {"x": {"datum": 0.16}, "y": {"datum": 2}, "text": {"field": "t"}}}
                ]},
                {"width": 110, "height": 79, "layer": [
                  {"data": {"name": "h"}, "mark": {"type": "area", "color": "#eda05c", "opacity": 0.85, "interpolate": "monotone", "clip": true}, "encoding": {"x": {"field": "x", "type": "quantitative", "scale": {"domain": [0.16, 1.54]}, "axis": {"values": [0.2,0.3,0.4,0.5,0.6,0.7,0.8,0.9,1.0,1.1,1.2,1.3,1.4,1.5], "tickCount": 20, "labels": false, "title": null}}, "y": {"field": "lo", "type": "quantitative", "scale": {"domain": [0, 6]}, "axis": {"values": [0,2,4,6], "tickCount": 20, "format": "d", "labelOverlap": false, "title": "ε″"}}, "y2": {"field": "hi"}}},
                  {"data": {"name": "h"}, "mark": {"type": "line", "color": "#d08040", "strokeWidth": 0.8, "interpolate": "monotone", "clip": true}, "encoding": {"x": {"field": "x", "type": "quantitative"}, "y": {"field": "m", "type": "quantitative"}}},
                  {"data": {"name": "h"}, "mark": {"type": "line", "color": "#6e4a30", "strokeWidth": 0.8, "interpolate": "monotone", "clip": true}, "encoding": {"x": {"field": "x", "type": "quantitative"}, "y": {"field": "f", "type": "quantitative"}}},
                  {"data": {"name": "w2"}, "mark": {"type": "line", "color": "#8ea4ff", "strokeWidth": 0.8, "strokeDash": [3, 2], "interpolate": "monotone", "clip": true}, "encoding": {"x": {"field": "x", "type": "quantitative"}, "y": {"field": "v", "type": "quantitative"}}},
                  {"data": {"values": [{"t": "(h)"}]}, "mark": {"type": "text", "align": "left", "baseline": "bottom", "dx": 2, "dy": -1, "fontSize": 10.5}, "encoding": {"x": {"datum": 0.16}, "y": {"datum": 0}, "text": {"field": "t"}}},
                  {"data": {"values": [{"s": "GII – Experiment"}, {"s": "GII – DD & DO"}, {"s": "Water [42]"}]}, "mark": {"type": "rule", "opacity": 0}, "encoding": {"x": {"datum": 1}, "color": {"field": "s", "type": "nominal", "scale": {"domain": ["GII – Experiment", "GII – DD & DO", "Water [42]"], "range": ["#eda05c", "#6e4a30", "#8ea4ff"]}, "legend": {"title": null}}, "strokeDash": {"field": "s", "type": "nominal", "scale": {"domain": ["GII – Experiment", "GII – DD & DO", "Water [42]"], "range": [[1, 0], [1, 0], [3, 2]]}, "legend": {"title": null}}, "strokeWidth": {"field": "s", "type": "nominal", "scale": {"domain": ["GII – Experiment", "GII – DD & DO", "Water [42]"], "range": [2.5, 0.9, 0.9]}, "legend": {"title": null}}}}
                ]}
              ]
            }
          ]
        },
        {
          "spacing": -3,
          "resolve": {"scale": {"color": "independent", "strokeDash": "independent", "strokeWidth": "independent"}},
          "vconcat": [
            {
              "title": "High-grade gliomas",
              "bounds": "flush", "spacing": 13,
              "resolve": {"scale": {"color": "independent", "strokeDash": "independent", "strokeWidth": "independent"}},
              "hconcat": [
                {"width": 113, "height": 78, "layer": [
                  {"data": {"name": "i"}, "mark": {"type": "area", "color": "#e05b8e", "opacity": 0.85, "interpolate": "monotone", "clip": true}, "encoding": {"x": {"field": "x", "type": "quantitative", "scale": {"domain": [0.16, 1.54]}, "axis": {"values": [0.2,0.3,0.4,0.5,0.6,0.7,0.8,0.9,1.0,1.1,1.2,1.3,1.4,1.5], "tickCount": 20, "labels": false, "title": null}}, "y": {"field": "lo", "type": "quantitative", "scale": {"domain": [2, 8]}, "axis": {"values": [2,4,6,8], "tickCount": 20, "format": "d", "labelOverlap": false, "title": "ε′"}}, "y2": {"field": "hi"}}},
                  {"data": {"name": "i"}, "mark": {"type": "line", "color": "#c0406f", "strokeWidth": 0.8, "interpolate": "monotone", "clip": true}, "encoding": {"x": {"field": "x", "type": "quantitative"}, "y": {"field": "m", "type": "quantitative"}}},
                  {"data": {"name": "i"}, "mark": {"type": "line", "color": "#7e2148", "strokeWidth": 0.8, "interpolate": "monotone", "clip": true}, "encoding": {"x": {"field": "x", "type": "quantitative"}, "y": {"field": "f", "type": "quantitative"}}},
                  {"data": {"name": "w1"}, "mark": {"type": "line", "color": "#8ea4ff", "strokeWidth": 0.8, "strokeDash": [3, 2], "interpolate": "monotone", "clip": true}, "encoding": {"x": {"field": "x", "type": "quantitative"}, "y": {"field": "v", "type": "quantitative"}}},
                  {"data": {"values": [{"t": "(i)"}]}, "mark": {"type": "text", "align": "left", "baseline": "bottom", "dx": 2, "dy": -1, "fontSize": 10.5}, "encoding": {"x": {"datum": 0.16}, "y": {"datum": 2}, "text": {"field": "t"}}}
                ]},
                {"width": 110, "height": 78, "layer": [
                  {"data": {"name": "j"}, "mark": {"type": "area", "color": "#e05b8e", "opacity": 0.85, "interpolate": "monotone", "clip": true}, "encoding": {"x": {"field": "x", "type": "quantitative", "scale": {"domain": [0.16, 1.54]}, "axis": {"values": [0.2,0.3,0.4,0.5,0.6,0.7,0.8,0.9,1.0,1.1,1.2,1.3,1.4,1.5], "tickCount": 20, "labels": false, "title": null}}, "y": {"field": "lo", "type": "quantitative", "scale": {"domain": [0, 6]}, "axis": {"values": [0,2,4,6], "tickCount": 20, "format": "d", "labelOverlap": false, "title": "ε″"}}, "y2": {"field": "hi"}}},
                  {"data": {"name": "j"}, "mark": {"type": "line", "color": "#c0406f", "strokeWidth": 0.8, "interpolate": "monotone", "clip": true}, "encoding": {"x": {"field": "x", "type": "quantitative"}, "y": {"field": "m", "type": "quantitative"}}},
                  {"data": {"name": "j"}, "mark": {"type": "line", "color": "#7e2148", "strokeWidth": 0.8, "interpolate": "monotone", "clip": true}, "encoding": {"x": {"field": "x", "type": "quantitative"}, "y": {"field": "f", "type": "quantitative"}}},
                  {"data": {"name": "w2"}, "mark": {"type": "line", "color": "#8ea4ff", "strokeWidth": 0.8, "strokeDash": [3, 2], "interpolate": "monotone", "clip": true}, "encoding": {"x": {"field": "x", "type": "quantitative"}, "y": {"field": "v", "type": "quantitative"}}},
                  {"data": {"values": [{"t": "(j)"}]}, "mark": {"type": "text", "align": "left", "baseline": "bottom", "dx": 2, "dy": -1, "fontSize": 10.5}, "encoding": {"x": {"datum": 0.16}, "y": {"datum": 0}, "text": {"field": "t"}}},
                  {"data": {"values": [{"s": "GIII – Experiment"}, {"s": "GIII – DD & DO"}, {"s": "Water [42]"}]}, "mark": {"type": "rule", "opacity": 0}, "encoding": {"x": {"datum": 1}, "color": {"field": "s", "type": "nominal", "scale": {"domain": ["GIII – Experiment", "GIII – DD & DO", "Water [42]"], "range": ["#e05b8e", "#7e2148", "#8ea4ff"]}, "legend": {"title": null}}, "strokeDash": {"field": "s", "type": "nominal", "scale": {"domain": ["GIII – Experiment", "GIII – DD & DO", "Water [42]"], "range": [[1, 0], [1, 0], [3, 2]]}, "legend": {"title": null}}, "strokeWidth": {"field": "s", "type": "nominal", "scale": {"domain": ["GIII – Experiment", "GIII – DD & DO", "Water [42]"], "range": [2.5, 0.9, 0.9]}, "legend": {"title": null}}}}
                ]}
              ]
            },
            {
              "bounds": "flush", "spacing": 13,
              "resolve": {"scale": {"color": "independent", "strokeDash": "independent", "strokeWidth": "independent"}},
              "hconcat": [
                {"width": 113, "height": 78, "layer": [
                  {"data": {"name": "k"}, "mark": {"type": "area", "color": "#b86b68", "opacity": 0.85, "interpolate": "monotone", "clip": true}, "encoding": {"x": {"field": "x", "type": "quantitative", "scale": {"domain": [0.16, 1.54]}, "axis": {"values": [0.2,0.3,0.4,0.5,0.6,0.7,0.8,0.9,1.0,1.1,1.2,1.3,1.4,1.5], "tickCount": 20, "labelOverlap": false, "labelExpr": "round(datum.value*10)%2==0 ? format(datum.value,'.1f') : ''", "title": "ν, THz", "titleX": 116, "titleY": 9, "titleBaseline": "top", "titleFontSize": 9}}, "y": {"field": "lo", "type": "quantitative", "scale": {"domain": [2, 8]}, "axis": {"values": [2,4,6,8], "tickCount": 20, "format": "d", "labelOverlap": false, "title": "ε′"}}, "y2": {"field": "hi"}}},
                  {"data": {"name": "k"}, "mark": {"type": "line", "color": "#94403e", "strokeWidth": 0.8, "interpolate": "monotone", "clip": true}, "encoding": {"x": {"field": "x", "type": "quantitative"}, "y": {"field": "m", "type": "quantitative"}}},
                  {"data": {"name": "k"}, "mark": {"type": "line", "color": "#5c2222", "strokeWidth": 0.8, "interpolate": "monotone", "clip": true}, "encoding": {"x": {"field": "x", "type": "quantitative"}, "y": {"field": "f", "type": "quantitative"}}},
                  {"data": {"name": "w1"}, "mark": {"type": "line", "color": "#8ea4ff", "strokeWidth": 0.8, "strokeDash": [3, 2], "interpolate": "monotone", "clip": true}, "encoding": {"x": {"field": "x", "type": "quantitative"}, "y": {"field": "v", "type": "quantitative"}}},
                  {"data": {"values": [{"t": "(k)"}]}, "mark": {"type": "text", "align": "left", "baseline": "bottom", "dx": 2, "dy": -1, "fontSize": 10.5}, "encoding": {"x": {"datum": 0.16}, "y": {"datum": 2}, "text": {"field": "t"}}}
                ]},
                {"width": 110, "height": 78, "layer": [
                  {"data": {"name": "l"}, "mark": {"type": "area", "color": "#b86b68", "opacity": 0.85, "interpolate": "monotone", "clip": true}, "encoding": {"x": {"field": "x", "type": "quantitative", "scale": {"domain": [0.16, 1.54]}, "axis": {"values": [0.2,0.3,0.4,0.5,0.6,0.7,0.8,0.9,1.0,1.1,1.2,1.3,1.4,1.5], "tickCount": 20, "labelOverlap": false, "labelExpr": "round(datum.value*10)%2==0 ? format(datum.value,'.1f') : ''", "title": null}}, "y": {"field": "lo", "type": "quantitative", "scale": {"domain": [0, 6]}, "axis": {"values": [0,2,4,6], "tickCount": 20, "format": "d", "labelOverlap": false, "title": "ε″"}}, "y2": {"field": "hi"}}},
                  {"data": {"name": "l"}, "mark": {"type": "line", "color": "#94403e", "strokeWidth": 0.8, "interpolate": "monotone", "clip": true}, "encoding": {"x": {"field": "x", "type": "quantitative"}, "y": {"field": "m", "type": "quantitative"}}},
                  {"data": {"name": "l"}, "mark": {"type": "line", "color": "#5c2222", "strokeWidth": 0.8, "interpolate": "monotone", "clip": true}, "encoding": {"x": {"field": "x", "type": "quantitative"}, "y": {"field": "f", "type": "quantitative"}}},
                  {"data": {"name": "w2"}, "mark": {"type": "line", "color": "#8ea4ff", "strokeWidth": 0.8, "strokeDash": [3, 2], "interpolate": "monotone", "clip": true}, "encoding": {"x": {"field": "x", "type": "quantitative"}, "y": {"field": "v", "type": "quantitative"}}},
                  {"data": {"values": [{"t": "(l)"}]}, "mark": {"type": "text", "align": "left", "baseline": "bottom", "dx": 2, "dy": -1, "fontSize": 10.5}, "encoding": {"x": {"datum": 0.16}, "y": {"datum": 0}, "text": {"field": "t"}}},
                  {"data": {"values": [{"s": "GIV – Experiment"}, {"s": "GIV – DD & DO"}, {"s": "Water [42]"}]}, "mark": {"type": "rule", "opacity": 0}, "encoding": {"x": {"datum": 1}, "color": {"field": "s", "type": "nominal", "scale": {"domain": ["GIV – Experiment", "GIV – DD & DO", "Water [42]"], "range": ["#b86b68", "#5c2222", "#8ea4ff"]}, "legend": {"title": null}}, "strokeDash": {"field": "s", "type": "nominal", "scale": {"domain": ["GIV – Experiment", "GIV – DD & DO", "Water [42]"], "range": [[1, 0], [1, 0], [3, 2]]}, "legend": {"title": null}}, "strokeWidth": {"field": "s", "type": "nominal", "scale": {"domain": ["GIV – Experiment", "GIV – DD & DO", "Water [42]"], "range": [2.5, 0.9, 0.9]}, "legend": {"title": null}}}}
                ]}
              ]
            }
          ]
        }
      ]
    }
  ]
}
